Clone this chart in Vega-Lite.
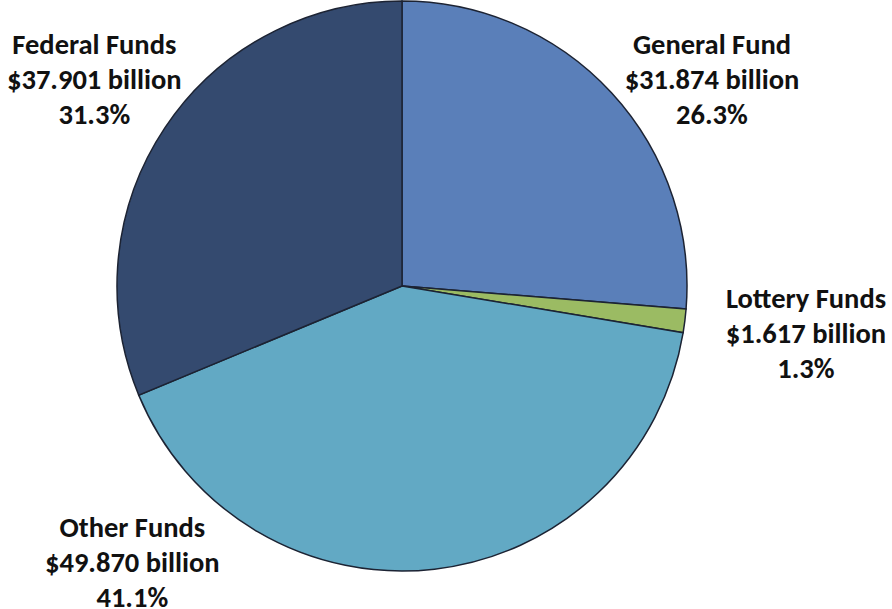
{
  "$schema": "https://vega.github.io/schema/vega-lite/v6.json",
  "autosize": {"type": "none"},
  "width": 804,
  "height": 572,
  "padding": {"left": 0, "top": 0, "right": 88, "bottom": 37},
  "background": "white",
  "config": {"view": {"stroke": null}},
  "data": {
    "values": [
      {"k": 1, "fund": "General Fund", "amount": 31.874, "label": "General Fund\n$31.874 billion\n26.3%"},
      {"k": 2, "fund": "Lottery Funds", "amount": 1.617, "label": "Lottery Funds\n$1.617 billion\n1.3%"},
      {"k": 3, "fund": "Other Funds", "amount": 49.870, "label": "Other Funds\n$49.870 billion\n41.1%"},
      {"k": 4, "fund": "Federal Funds", "amount": 37.901, "label": "Federal Funds\n$37.901 billion\n31.3%"}
    ]
  },
  "encoding": {
    "theta": {"field": "amount", "type": "quantitative", "stack": true},
    "order": {"field": "k", "type": "quantitative"}
  },
  "layer": [
    {
      "mark": {"type": "arc", "outerRadius": 285, "stroke": "#1c2333", "strokeWidth": 1.5},
      "encoding": {
        "color": {
          "field": "fund",
          "type": "nominal",
          "scale": {
            "domain": ["General Fund", "Lottery Funds", "Other Funds", "Federal Funds"],
            "range": ["#5a7fb9", "#9bbb63", "#62a9c4", "#344a6f"]
          },
          "legend": null
        }
      }
    },
    {
      "mark": {"type": "text", "radius": 370, "dx": 38, "dy": 10, "align": "center", "baseline": "middle", "lineBreak": "\n", "lineHeight": 35, "font": "Carlito, Lato", "fontWeight": "bold", "fontSize": 28.5, "color": "#111111"},
      "encoding": {"text": {"condition": {"test": "datum.k == 1", "field": "label"}, "value": ""}}
    },
    {
      "mark": {"type": "text", "radius": 405, "dx": 2, "dy": -37, "align": "center", "baseline": "middle", "lineBreak": "\n", "lineHeight": 35, "font": "Carlito, Lato", "fontWeight": "bold", "fontSize": 28.5, "color": "#111111"},
      "encoding": {"text": {"condition": {"test": "datum.k == 2", "field": "label"}, "value": ""}}
    },
    {
      "mark": {"type": "text", "radius": 380, "dx": -313, "dy": -136, "align": "center", "baseline": "middle", "lineBreak": "\n", "lineHeight": 35, "font": "Carlito, Lato", "fontWeight": "bold", "fontSize": 28.5, "color": "#111111"},
      "encoding": {"text": {"condition": {"test": "datum.k == 3", "field": "label"}, "value": ""}}
    },
    {
      "mark": {"type": "text", "radius": 370, "dx": 0, "dy": -35, "align": "center", "baseline": "middle", "lineBreak": "\n", "lineHeight": 35, "font": "Carlito, Lato", "fontWeight": "bold", "fontSize": 28.5, "color": "#111111"},
      "encoding": {"text": {"condition": {"test": "datum.k == 4", "field": "label"}, "value": ""}}
    }
  ]
}
